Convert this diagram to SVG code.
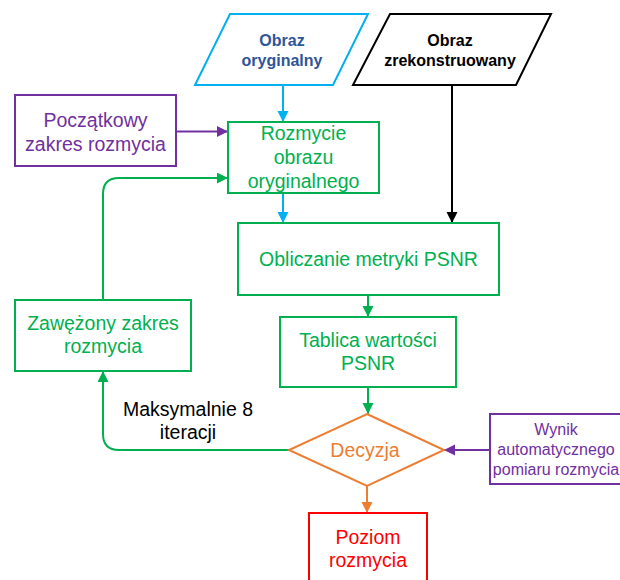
<svg xmlns="http://www.w3.org/2000/svg" width="620" height="580" viewBox="0 0 620 580">
  <style>
    text { font-family: "Liberation Sans", Arial, sans-serif; text-anchor: middle; }
    .t { font-size: 19.5px; }
    .ts { font-size: 16px; }
    .tb { font-size: 16px; font-weight: bold; }
    .box { fill: #ffffff; stroke-width: 2; }
    .green { stroke: #00b050; }
    .purple { stroke: #7030a0; }
    .blue { stroke: #00b0f0; }
    .black { stroke: #000000; }
    .orange { stroke: #ed7d31; }
    .red { stroke: #ff0000; }
    .fg { fill: #00b050; }
    .fp { fill: #7030a0; }
    .fo { fill: #ed7d31; }
    .fr { fill: #ff0000; }
    .fb { fill: #2f5597; }
    .fk { fill: #000000; }
    .edge { fill: none; stroke-width: 2; }
  </style>
  <defs>
    <marker id="ah-blue" markerUnits="userSpaceOnUse" markerWidth="12" markerHeight="12" refX="11" refY="5.5" orient="auto">
      <path d="M0,0 L11,5.5 L0,11 z" fill="#00b0f0"/>
    </marker>
    <marker id="ah-black" markerUnits="userSpaceOnUse" markerWidth="12" markerHeight="12" refX="11" refY="5.5" orient="auto">
      <path d="M0,0 L11,5.5 L0,11 z" fill="#000000"/>
    </marker>
    <marker id="ah-green" markerUnits="userSpaceOnUse" markerWidth="12" markerHeight="12" refX="11" refY="5.5" orient="auto">
      <path d="M0,0 L11,5.5 L0,11 z" fill="#00b050"/>
    </marker>
    <marker id="ah-purple" markerUnits="userSpaceOnUse" markerWidth="12" markerHeight="12" refX="11" refY="5.5" orient="auto">
      <path d="M0,0 L11,5.5 L0,11 z" fill="#7030a0"/>
    </marker>
    <marker id="ah-orange" markerUnits="userSpaceOnUse" markerWidth="12" markerHeight="12" refX="11" refY="5.5" orient="auto">
      <path d="M0,0 L11,5.5 L0,11 z" fill="#ed7d31"/>
    </marker>
  </defs>

  <rect width="620" height="580" fill="#ffffff"/>

  <!-- connectors -->
  <g id="connectors">
    <path class="edge blue" d="M283,85 V122" marker-end="url(#ah-blue)"/>
    <path class="edge blue" d="M283,193 V223" marker-end="url(#ah-blue)"/>
    <path class="edge black" d="M452,85 V223" marker-end="url(#ah-black)"/>
    <path class="edge purple" d="M176,131.5 H228" marker-end="url(#ah-purple)"/>
    <path class="edge green" d="M103,300 V194 Q103,178 119,178 H228" marker-end="url(#ah-green)"/>
    <path class="edge green" d="M368,295 V317" marker-end="url(#ah-green)"/>
    <path class="edge green" d="M368,387 V414" marker-end="url(#ah-green)"/>
    <path class="edge green" d="M289,450 H119 Q103,450 103,434 V371" marker-end="url(#ah-green)"/>
    <path class="edge purple" d="M490,450 H444" marker-end="url(#ah-purple)"/>
    <path class="edge orange" d="M367,486 V513" marker-end="url(#ah-orange)"/>
    <text class="t fk" x="188" y="416">Maksymalnie 8</text>
    <text class="t fk" x="188" y="439">iteracji</text>
  </g>

  <!-- input: original image -->
  <g id="obraz-oryginalny">
    <polygon class="box blue" points="230,14 368,14 333,85 195,85"/>
    <text class="tb fb" x="282" y="46">Obraz</text>
    <text class="tb fb" x="282" y="66">oryginalny</text>
  </g>

  <!-- input: reconstructed image -->
  <g id="obraz-zrekonstruowany">
    <polygon class="box black" points="390,14 551,14 516,85 353,85"/>
    <text class="tb fk" x="450" y="46">Obraz</text>
    <text class="tb fk" x="450" y="66">zrekonstruowany</text>
  </g>

  <g id="poczatkowy-zakres">
    <rect class="box purple" x="15" y="95" width="161" height="71"/>
    <text class="t fp" x="95.5" y="127">Początkowy</text>
    <text class="t fp" x="95.5" y="150.5">zakres rozmycia</text>
  </g>

  <g id="rozmycie">
    <rect class="box green" x="228" y="122" width="151" height="71"/>
    <text class="t fg" x="303.5" y="140">Rozmycie</text>
    <text class="t fg" x="303.5" y="164">obrazu</text>
    <text class="t fg" x="303.5" y="188">oryginalnego</text>
  </g>

  <g id="psnr">
    <rect class="box green" x="238" y="223" width="261" height="72"/>
    <text class="t fg" x="368.5" y="266">Obliczanie metryki PSNR</text>
  </g>

  <g id="tablica">
    <rect class="box green" x="280" y="317" width="176" height="70"/>
    <text class="t fg" x="368" y="347">Tablica wartości</text>
    <text class="t fg" x="368" y="370">PSNR</text>
  </g>

  <g id="zawezony-zakres">
    <rect class="box green" x="15" y="300" width="176" height="71"/>
    <text class="t fg" x="103" y="329.5">Zawężony zakres</text>
    <text class="t fg" x="103" y="353">rozmycia</text>
  </g>

  <g id="decyzja">
    <polygon class="box orange" points="367,414 444,450 367,486 289,450"/>
    <text class="t fo" x="365" y="456.5">Decyzja</text>
  </g>

  <g id="wynik-pomiaru">
    <rect class="box purple" x="490" y="414" width="140" height="70"/>
    <text class="ts fp" x="556" y="435">Wynik</text>
    <text class="ts fp" x="556" y="455">automatycznego</text>
    <text class="ts fp" x="556" y="475">pomiaru rozmycia</text>
  </g>

  <g id="poziom-rozmycia">
    <rect class="box red" x="309" y="513" width="118" height="80"/>
    <text class="t fr" x="368" y="544">Poziom</text>
    <text class="t fr" x="368" y="567">rozmycia</text>
  </g>
</svg>
